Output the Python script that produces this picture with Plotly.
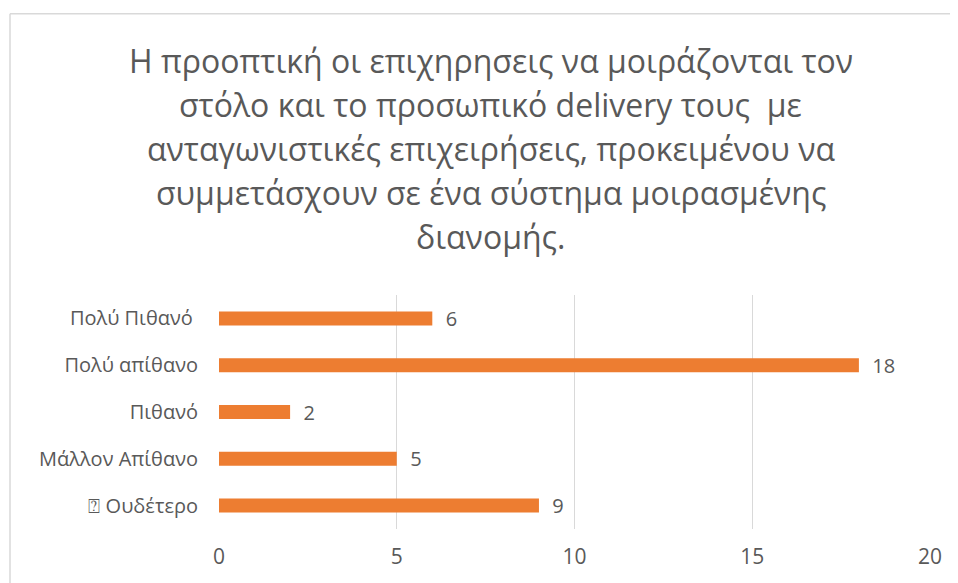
import plotly.graph_objects as go

categories = ["⍰ Ουδέτερο", "Μάλλον Απίθανο", "Πιθανό", "Πολύ απίθανο", "Πολύ Πιθανό "]
values = [9, 5, 2, 18, 6]
tick_vals = [0, 5, 10, 15, 20]
title_lines = [
    "Η προοπτική οι επιχηρησεις να μοιράζονται τον",
    "στόλο και το προσωπικό delivery τους  με",
    "ανταγωνιστικές επιχειρήσεις, προκειμένου να",
    "συμμετάσχουν σε ένα σύστημα μοιρασμένης",
    "διανομής.",
]

FONT = "Open Sans, Noto Sans, sans-serif"
GREY = "#595959"

# page is offset by ~8px body margin; figure coords = screen - 8
W, H = 950, 575
L, T = 211, 286.5
PW, PH = 711, 235
B = H - T - PH
R = W - L - PW

fig = go.Figure(go.Bar(
    y=categories, x=values, orientation="h",
    marker=dict(color="#ED7D31", line=dict(width=0)),
    text=["  " + str(v) for v in values], textposition="outside",
    textfont=dict(size=20, color=GREY, family=FONT),
    constraintext="none",
    cliponaxis=False, width=0.3,
))

def py(yfig):
    return (T + PH - yfig) / PH

def px(xfig):
    return (xfig - L) / PW

annotations = []
for i, line in enumerate(title_lines):
    annotations.append(dict(
        text=line, xref="paper", yref="paper", x=px(482.5), y=py(51 + 44.3 * i),
        xanchor="center", yanchor="middle", showarrow=False,
        font=dict(size=32, color=GREY, family=FONT),
    ))

fig.update_layout(
    width=W, height=H,
    margin=dict(l=L, r=R, t=T, b=B),
    paper_bgcolor="white", plot_bgcolor="white",
    showlegend=False,
    annotations=annotations,
    xaxis=dict(range=[0, 20], tickvals=tick_vals, showgrid=True, gridcolor="#D9D9D9",
               gridwidth=1.3, zeroline=False, showline=False,
               tickfont=dict(size=21, color=GREY, family=FONT), ticks="", ticklen=0,
               ticklabelstandoff=13),
    yaxis=dict(showgrid=False, zeroline=False, showline=False, ticks="",
               tickfont=dict(size=20, color=GREY, family=FONT), ticklabelstandoff=20),
    shapes=[
        dict(type="line", xref="paper", yref="paper", x0=px(2), x1=px(960),
             y0=py(4), y1=py(4), line=dict(color="#D9D9D9", width=1.5)),
        dict(type="line", xref="paper", yref="paper", x0=px(2), x1=px(2),
             y0=py(4), y1=py(600), line=dict(color="#D9D9D9", width=1.5)),
    ],
)

fig.write_html("out.html")
